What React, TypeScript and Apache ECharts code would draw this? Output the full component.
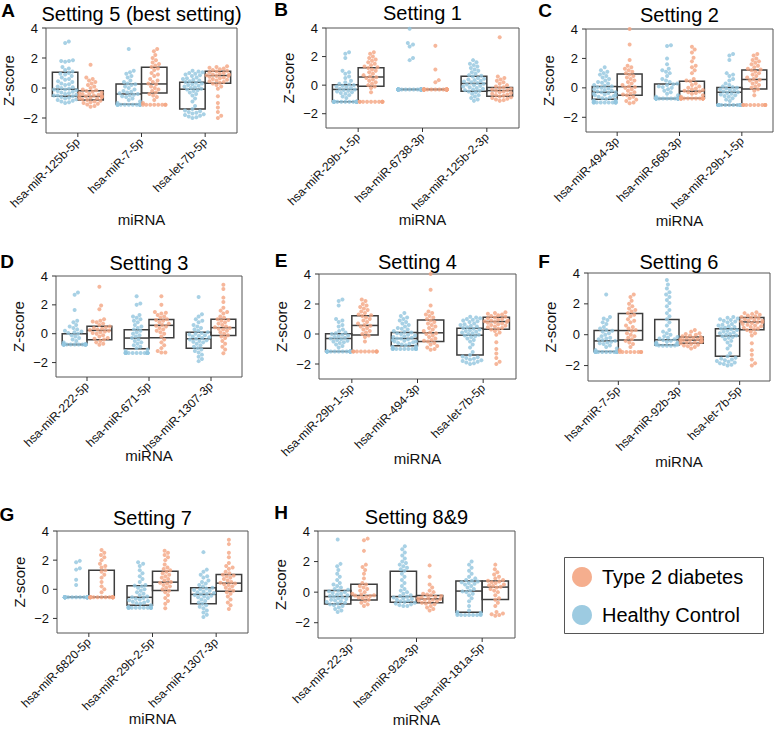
import React, { useEffect, useRef } from "react";
import * as echarts from "echarts";

// ---------------- Data (Z-scores) ----------------
// [Q1, median, Q3] for each box; points listed individually.
const hc_miR125b5p = [3.1, 3.0, 1.85, 1.8, 1.8, 1.75, 1.4, 1.3, 1.2, 1.1, 1.0, 0.95, 0.9, 0.8, 0.7, 0.6, 0.55, 0.45, 0.4, 0.3, 0.25, 0.2, 0.1, 0.05, 0.0, -0.05, -0.1, -0.1, -0.15, -0.2, -0.25, -0.3, -0.35, -0.4, -0.45, -0.5, -0.5, -0.55, -0.6, -0.65, -0.7, -0.75, -0.8, -0.85, -0.9, -0.95, -1.0];
const t2d_miR125b5p = [1.55, 0.7, 0.6, 0.5, 0.4, 0.3, 0.2, 0.1, 0.0, -0.1, -0.15, -0.2, -0.25, -0.3, -0.35, -0.4, -0.4, -0.45, -0.5, -0.5, -0.55, -0.55, -0.6, -0.6, -0.65, -0.7, -0.7, -0.75, -0.8, -0.85, -0.9, -0.95, -1.0, -1.05, -1.1, -1.2, -1.25];
const boxHc_miR125b5p = [-0.55, -0.08, 1.05];
const boxT2d_miR125b5p = [-0.8, -0.56, -0.18];

const hc_miR75p = [2.6, 1.15, 1.05, 0.95, 0.8, 0.7, 0.5, 0.4, 0.3, 0.25, 0.2, 0.1, 0.0, -0.1, -0.2, -0.25, -0.3, -0.35, -0.4, -0.45, -0.5, -0.55, -0.6, -0.7, -0.8, -0.9, -1.0, -1.12, -1.12, -1.12, -1.12, -1.12, -1.12, -1.12, -1.12, -1.12, -1.12, -1.12, -1.12];
const t2d_miR75p = [2.6, 2.45, 2.2, 2.0, 1.85, 1.7, 1.6, 1.5, 1.4, 1.3, 1.2, 1.0, 0.9, 0.8, 0.6, 0.5, 0.4, 0.3, 0.25, 0.1, 0.0, -0.1, -0.2, -0.3, -0.4, -0.5, -0.6, -0.8, -1.0, -1.12, -1.12, -1.12, -1.12, -1.12, -1.12, -1.12, -1.12];
const boxHc_miR75p = [-1.08, -0.4, 0.27];
const boxT2d_miR75p = [-0.34, 0.27, 1.38];

const hc_let7b5p = [1.15, 1.1, 1.05, 1.0, 0.95, 0.9, 0.85, 0.8, 0.7, 0.65, 0.6, 0.55, 0.5, 0.45, 0.4, 0.35, 0.3, 0.25, 0.2, 0.15, 0.1, 0.05, 0.0, -0.05, -0.1, -0.15, -0.2, -0.3, -0.4, -0.5, -0.7, -0.9, -1.2, -1.4, -1.5, -1.55, -1.6, -1.65, -1.7, -1.75, -1.8, -1.85, -1.9, -1.95, -2.0];
const t2d_let7b5p = [1.45, 1.4, 1.35, 1.3, 1.25, 1.2, 1.15, 1.1, 1.05, 1.0, 0.95, 0.9, 0.9, 0.85, 0.8, 0.8, 0.75, 0.7, 0.65, 0.6, 0.55, 0.5, 0.45, 0.4, 0.35, 0.3, 0.2, 0.1, -0.05, -0.55, -1.0, -1.3, -1.6, -1.85, -2.0];
const boxHc_let7b5p = [-1.4, -0.08, 0.38];
const boxT2d_let7b5p = [0.32, 0.83, 1.12];

const hc_miR29b15p = [2.3, 2.2, 1.9, 1.0, 0.9, 0.8, 0.6, 0.5, 0.3, 0.2, 0.1, 0.05, 0.0, -0.05, -0.1, -0.15, -0.2, -0.25, -0.3, -0.35, -0.4, -0.45, -0.5, -0.55, -0.6, -0.7, -0.8, -0.9, -1.17, -1.17, -1.17, -1.17, -1.17, -1.17, -1.17, -1.17, -1.17, -1.17, -1.17, -1.17, -1.17, -1.17, -1.17, -1.17, -1.17, -1.17];
const t2d_miR29b15p = [2.3, 2.2, 2.0, 1.9, 1.8, 1.7, 1.6, 1.5, 1.4, 1.3, 1.25, 1.2, 1.1, 1.0, 0.9, 0.8, 0.7, 0.6, 0.55, 0.5, 0.4, 0.3, 0.2, 0.1, 0.0, -0.1, -0.2, -0.5, -1.17, -1.17, -1.17, -1.17, -1.17, -1.17, -1.17, -1.17, -1.17, -1.17];
const boxHc_miR29b15p = [-1.17, -0.3, 0.02];
const boxT2d_miR29b15p = [-0.07, 0.57, 1.22];

const hc_miR67383p = [3.95, 2.95, 2.85, 2.7, 1.9, 1.75, -0.3, -0.3, -0.3, -0.3, -0.3, -0.3, -0.3, -0.3, -0.3, -0.3, -0.3, -0.3, -0.3, -0.3, -0.3, -0.3, -0.3, -0.3, -0.3, -0.3, -0.3, -0.3, -0.3, -0.3, -0.3, -0.3, -0.3, -0.3, -0.3, -0.3];
const t2d_miR67383p = [2.75, 1.1, 0.35, 0.2, -0.3, -0.3, -0.3, -0.3, -0.3, -0.3, -0.3, -0.3, -0.3, -0.3, -0.3, -0.3, -0.3, -0.3, -0.3, -0.3, -0.3, -0.3, -0.3, -0.3, -0.3, -0.3];
const boxHc_miR67383p = [-0.3, -0.3, -0.3];
const boxT2d_miR67383p = [-0.3, -0.3, -0.3];

const hc_miR125b23p = [1.75, 1.6, 1.5, 1.4, 1.3, 1.2, 1.1, 1.0, 0.9, 0.8, 0.7, 0.65, 0.6, 0.5, 0.45, 0.4, 0.35, 0.3, 0.25, 0.2, 0.15, 0.1, 0.05, 0.0, -0.05, -0.1, -0.15, -0.2, -0.25, -0.3, -0.35, -0.4, -0.45, -0.5, -0.6, -0.7, -0.8, -0.9, -1.0, -1.1];
const t2d_miR125b23p = [3.35, 0.6, 0.5, 0.4, 0.3, 0.2, 0.1, 0.0, -0.1, -0.15, -0.2, -0.25, -0.3, -0.35, -0.4, -0.45, -0.5, -0.55, -0.6, -0.65, -0.7, -0.75, -0.8, -0.85, -0.9, -0.95, -1.0, -1.05, -1.1];
const boxHc_miR125b23p = [-0.42, 0.12, 0.62];
const boxT2d_miR125b23p = [-0.78, -0.38, -0.17];

const hc_miR4943p = [1.4, 1.2, 1.1, 1.0, 0.9, 0.8, 0.7, 0.6, 0.5, 0.4, 0.35, 0.3, 0.2, 0.15, 0.1, 0.05, 0.0, -0.05, -0.1, -0.15, -0.2, -0.25, -0.3, -0.3, -0.35, -0.4, -0.45, -0.5, -0.5, -0.55, -0.6, -0.65, -0.7, -0.75, -0.8, -0.85, -0.9, -0.95, -1.0, -1.0, -1.0, -1.0, -1.0, -1.0, -1.0, -1.0, -1.0, -1.0];
const t2d_miR4943p = [4.0, 2.95, 1.9, 1.5, 1.4, 1.3, 1.2, 1.1, 1.0, 0.9, 0.8, 0.7, 0.6, 0.5, 0.4, 0.3, 0.2, 0.1, 0.05, 0.0, -0.1, -0.2, -0.3, -0.4, -0.45, -0.5, -0.6, -0.7, -0.8, -0.9, -1.0, -1.05];
const boxHc_miR4943p = [-0.78, -0.3, 0.1];
const boxT2d_miR4943p = [-0.5, 0.08, 0.94];

const hc_miR6683p = [2.9, 2.85, 2.0, 1.6, 1.3, 1.2, 1.1, 1.0, 0.8, 0.6, 0.5, 0.4, 0.3, 0.25, 0.2, 0.1, 0.05, 0.0, -0.1, -0.2, -0.3, -0.4, -0.5, -0.6, -0.73, -0.73, -0.73, -0.73, -0.73, -0.73, -0.73, -0.73, -0.73, -0.73, -0.73, -0.73, -0.73, -0.73, -0.73, -0.73, -0.73, -0.73, -0.73, -0.73];
const t2d_miR6683p = [2.8, 2.6, 2.4, 2.05, 1.8, 1.5, 1.4, 1.2, 1.0, 0.6, 0.5, 0.45, 0.3, 0.2, 0.1, 0.0, -0.05, -0.1, -0.15, -0.2, -0.25, -0.3, -0.35, -0.4, -0.5, -0.6, -0.73, -0.73, -0.73, -0.73, -0.73, -0.73, -0.73, -0.73, -0.73, -0.73, -0.73, -0.73, -0.73, -0.73];
const boxHc_miR6683p = [-0.73, -0.73, 0.27];
const boxT2d_miR6683p = [-0.7, -0.23, 0.45];

const hc_miR2225p = [2.85, 2.7, 1.65, 0.9, 0.8, 0.6, 0.5, 0.4, 0.3, 0.2, 0.15, 0.1, 0.05, 0.0, -0.1, -0.2, -0.3, -0.4, -0.5, -0.6, -0.75, -0.75, -0.75, -0.75, -0.75, -0.75, -0.75, -0.75, -0.75, -0.75, -0.75, -0.75, -0.75, -0.75, -0.75, -0.75];
const t2d_miR2225p = [3.25, 1.95, 1.7, 1.0, 0.9, 0.85, 0.8, 0.7, 0.6, 0.5, 0.45, 0.4, 0.35, 0.3, 0.25, 0.2, 0.15, 0.1, 0.05, 0.0, -0.1, -0.2, -0.3, -0.35, -0.4, -0.5, -0.6, -0.7, -0.77];
const boxHc_miR2225p = [-0.75, -0.75, 0.0];
const boxT2d_miR2225p = [-0.42, 0.23, 0.51];

const hc_miR6715p = [2.6, 2.1, 2.0, 1.3, 1.2, 1.1, 1.0, 0.9, 0.8, 0.6, 0.5, 0.4, 0.3, 0.2, 0.1, 0.0, -0.1, -0.2, -0.3, -0.4, -0.5, -0.6, -0.7, -0.8, -0.9, -1.0, -1.1, -1.2, -1.33, -1.33, -1.33, -1.33, -1.33, -1.33, -1.33, -1.33, -1.33, -1.33, -1.33, -1.33, -1.33, -1.33];
const t2d_miR6715p = [2.6, 2.0, 1.5, 1.45, 1.4, 1.3, 1.2, 1.1, 1.0, 0.95, 0.9, 0.8, 0.7, 0.6, 0.55, 0.5, 0.4, 0.3, 0.2, 0.1, 0.0, -0.2, -0.4, -0.6, -0.8, -1.0, -1.2, -1.3, -1.3];
const boxHc_miR6715p = [-1.05, -0.3, 0.28];
const boxT2d_miR6715p = [-0.28, 0.58, 0.98];

const hc_miR13073p = [2.55, 1.35, 1.2, 1.0, 0.9, 0.8, 0.6, 0.5, 0.4, 0.3, 0.2, 0.1, 0.05, 0.0, -0.05, -0.1, -0.15, -0.2, -0.25, -0.3, -0.35, -0.4, -0.45, -0.5, -0.55, -0.6, -0.7, -0.8, -0.9, -1.0, -1.1, -1.2, -1.3, -1.45, -1.6, -1.75, -1.9];
const t2d_miR13073p = [3.4, 3.1, 2.5, 2.2, 1.8, 1.6, 1.5, 1.4, 1.2, 1.1, 1.0, 0.95, 0.9, 0.8, 0.7, 0.6, 0.5, 0.45, 0.4, 0.35, 0.3, 0.2, 0.1, 0.0, -0.1, -0.2, -0.3, -0.5, -0.7, -0.9, -1.1, -1.35];
const boxHc_miR13073p = [-1.0, -0.35, 0.1];
const boxT2d_miR13073p = [-0.13, 0.42, 1.01];

const hc_miR92b3p = [3.55, 3.25, 3.0, 2.75, 2.6, 2.45, 2.25, 2.05, 1.85, 1.6, 1.4, 1.2, 1.0, 0.8, 0.6, 0.3, 0.2, 0.1, 0.0, -0.1, -0.15, -0.2, -0.25, -0.3, -0.35, -0.4, -0.45, -0.5, -0.5, -0.55, -0.55, -0.6, -0.6, -0.65, -0.65, -0.7, -0.7, -0.72, -0.72, -0.72];
const t2d_miR92b3p = [0.3, 0.2, 0.1, 0.05, 0.0, -0.05, -0.1, -0.15, -0.2, -0.2, -0.25, -0.3, -0.3, -0.35, -0.35, -0.4, -0.4, -0.45, -0.45, -0.5, -0.5, -0.55, -0.6, -0.65, -0.7, -0.75, -0.8, -0.9];
const boxHc_miR92b3p = [-0.66, -0.33, 0.99];
const boxT2d_miR92b3p = [-0.55, -0.35, -0.15];

const hc_miR68205p = [1.95, 1.85, 1.45, 1.35, 0.65, 0.3, -0.55, -0.55, -0.55, -0.55, -0.55, -0.55, -0.55, -0.55, -0.55, -0.55, -0.55, -0.55, -0.55, -0.55, -0.55, -0.55, -0.55, -0.55, -0.55, -0.55, -0.55, -0.55, -0.55, -0.55, -0.55, -0.55];
const t2d_miR68205p = [2.7, 2.5, 2.35, 2.2, 2.0, 1.75, 1.6, 1.5, 1.3, 1.2, 1.0, 0.8, 0.5, 0.2, 0.0, -0.2, -0.55, -0.55, -0.55, -0.55, -0.55, -0.55, -0.55, -0.55, -0.55, -0.55, -0.55, -0.55, -0.55, -0.55, -0.55, -0.55];
const boxHc_miR68205p = [-0.55, -0.55, -0.55];
const boxT2d_miR68205p = [-0.55, -0.55, 1.3];

const hc_miR29b25p = [1.85, 1.75, 1.6, 1.3, 1.1, 0.9, 0.7, 0.5, 0.3, 0.25, 0.2, 0.1, 0.0, -0.1, -0.2, -0.3, -0.4, -0.5, -0.55, -0.6, -0.65, -0.7, -0.75, -0.8, -0.85, -0.9, -0.95, -1.0, -1.1, -1.2, -1.27, -1.27, -1.27, -1.27, -1.27, -1.27, -1.27, -1.27, -1.27, -1.27, -1.27, -1.27];
const t2d_miR29b25p = [2.65, 2.5, 2.35, 2.2, 2.0, 1.7, 1.5, 1.4, 1.3, 1.2, 1.1, 1.0, 0.9, 0.8, 0.7, 0.6, 0.5, 0.45, 0.4, 0.3, 0.2, 0.1, 0.0, -0.1, -0.2, -0.4, -0.6, -0.8, -1.0, -1.3];
const boxHc_miR29b25p = [-1.09, -0.55, 0.25];
const boxT2d_miR29b25p = [-0.09, 0.49, 1.23];

const hc_miR223p = [3.45, 1.85, 1.7, 1.45, 1.2, 1.0, 0.8, 0.6, 0.5, 0.4, 0.3, 0.2, 0.15, 0.1, 0.05, 0.0, -0.05, -0.1, -0.15, -0.2, -0.25, -0.3, -0.35, -0.4, -0.45, -0.5, -0.55, -0.6, -0.65, -0.7, -0.75, -0.8, -0.85, -0.9, -1.0, -1.1, -1.2, -1.3];
const t2d_miR223p = [3.5, 3.4, 2.7, 1.8, 1.65, 1.45, 1.2, 0.9, 0.6, 0.5, 0.4, 0.3, 0.2, 0.1, 0.0, -0.1, -0.15, -0.2, -0.22, -0.25, -0.3, -0.35, -0.4, -0.5, -0.6, -0.7, -0.8, -0.9];
const boxHc_miR223p = [-0.77, -0.29, 0.11];
const boxT2d_miR223p = [-0.51, -0.22, 0.51];

const hc_miR92a3p = [3.0, 2.8, 2.6, 2.4, 2.2, 2.0, 1.9, 1.8, 1.7, 1.6, 1.5, 1.4, 1.2, 1.0, 0.8, 0.6, 0.4, 0.2, 0.1, 0.0, -0.1, -0.2, -0.25, -0.3, -0.35, -0.4, -0.45, -0.5, -0.55, -0.6, -0.65, -0.7, -0.75, -0.8, -0.85, -0.9, -0.9];
const t2d_miR92a3p = [1.75, 1.0, 0.5, 0.3, 0.1, 0.0, -0.1, -0.15, -0.2, -0.25, -0.3, -0.35, -0.4, -0.4, -0.45, -0.5, -0.5, -0.55, -0.6, -0.65, -0.7, -0.75, -0.8, -0.9, -1.0, -1.1, -1.2];
const boxHc_miR92a3p = [-0.66, -0.29, 1.36];
const boxT2d_miR92a3p = [-0.7, -0.44, -0.22];

const hc_miR181a5p = [2.0, 1.8, 1.6, 1.4, 1.2, 1.0, 0.9, 0.8, 0.75, 0.7, 0.65, 0.6, 0.55, 0.5, 0.4, 0.3, 0.2, 0.1, 0.05, 0.0, -0.1, -0.2, -0.4, -0.6, -0.9, -1.2, -1.3, -1.35, -1.4, -1.45, -1.5, -1.5, -1.5, -1.5, -1.5, -1.5, -1.5];
const t2d_miR181a5p = [1.8, 1.5, 1.3, 1.15, 1.0, 0.9, 0.8, 0.75, 0.7, 0.65, 0.6, 0.5, 0.45, 0.4, 0.35, 0.3, 0.2, 0.1, 0.0, -0.2, -0.4, -0.5, -0.7, -0.9, -1.3, -1.4, -1.45, -1.5, -1.55];
const boxHc_miR181a5p = [-1.32, 0.07, 0.73];
const boxT2d_miR181a5p = [-0.48, 0.33, 0.73];

const panelLetters = ["A", "B", "C", "D", "E", "F", "G", "H"];
const panelTitles = ["Setting 5 (best setting)", "Setting 1", "Setting 2", "Setting 3", "Setting 4", "Setting 6", "Setting 7", "Setting 8&9"];
const panelMirnas = [
  ["hsa-miR-125b-5p", "hsa-miR-7-5p", "hsa-let-7b-5p"],
  ["hsa-miR-29b-1-5p", "hsa-miR-6738-3p", "hsa-miR-125b-2-3p"],
  ["hsa-miR-494-3p", "hsa-miR-668-3p", "hsa-miR-29b-1-5p"],
  ["hsa-miR-222-5p", "hsa-miR-671-5p", "hsa-miR-1307-3p"],
  ["hsa-miR-29b-1-5p", "hsa-miR-494-3p", "hsa-let-7b-5p"],
  ["hsa-miR-7-5p", "hsa-miR-92b-3p", "hsa-let-7b-5p"],
  ["hsa-miR-6820-5p", "hsa-miR-29b-2-5p", "hsa-miR-1307-3p"],
  ["hsa-miR-22-3p", "hsa-miR-92a-3p", "hsa-miR-181a-5p"],
];
const yTicks = [-2, 0, 2, 4];
const legendLabels = ["Type 2 diabetes", "Healthy Control"];

const MIRNA: Record<string, { hc: number[]; t2d: number[]; hcBox: number[]; t2dBox: number[] }> = {
  "hsa-miR-125b-5p": { hc: hc_miR125b5p, t2d: t2d_miR125b5p, hcBox: boxHc_miR125b5p, t2dBox: boxT2d_miR125b5p },
  "hsa-miR-7-5p": { hc: hc_miR75p, t2d: t2d_miR75p, hcBox: boxHc_miR75p, t2dBox: boxT2d_miR75p },
  "hsa-let-7b-5p": { hc: hc_let7b5p, t2d: t2d_let7b5p, hcBox: boxHc_let7b5p, t2dBox: boxT2d_let7b5p },
  "hsa-miR-29b-1-5p": { hc: hc_miR29b15p, t2d: t2d_miR29b15p, hcBox: boxHc_miR29b15p, t2dBox: boxT2d_miR29b15p },
  "hsa-miR-6738-3p": { hc: hc_miR67383p, t2d: t2d_miR67383p, hcBox: boxHc_miR67383p, t2dBox: boxT2d_miR67383p },
  "hsa-miR-125b-2-3p": { hc: hc_miR125b23p, t2d: t2d_miR125b23p, hcBox: boxHc_miR125b23p, t2dBox: boxT2d_miR125b23p },
  "hsa-miR-494-3p": { hc: hc_miR4943p, t2d: t2d_miR4943p, hcBox: boxHc_miR4943p, t2dBox: boxT2d_miR4943p },
  "hsa-miR-668-3p": { hc: hc_miR6683p, t2d: t2d_miR6683p, hcBox: boxHc_miR6683p, t2dBox: boxT2d_miR6683p },
  "hsa-miR-222-5p": { hc: hc_miR2225p, t2d: t2d_miR2225p, hcBox: boxHc_miR2225p, t2dBox: boxT2d_miR2225p },
  "hsa-miR-671-5p": { hc: hc_miR6715p, t2d: t2d_miR6715p, hcBox: boxHc_miR6715p, t2dBox: boxT2d_miR6715p },
  "hsa-miR-1307-3p": { hc: hc_miR13073p, t2d: t2d_miR13073p, hcBox: boxHc_miR13073p, t2dBox: boxT2d_miR13073p },
  "hsa-miR-92b-3p": { hc: hc_miR92b3p, t2d: t2d_miR92b3p, hcBox: boxHc_miR92b3p, t2dBox: boxT2d_miR92b3p },
  "hsa-miR-6820-5p": { hc: hc_miR68205p, t2d: t2d_miR68205p, hcBox: boxHc_miR68205p, t2dBox: boxT2d_miR68205p },
  "hsa-miR-29b-2-5p": { hc: hc_miR29b25p, t2d: t2d_miR29b25p, hcBox: boxHc_miR29b25p, t2dBox: boxT2d_miR29b25p },
  "hsa-miR-22-3p": { hc: hc_miR223p, t2d: t2d_miR223p, hcBox: boxHc_miR223p, t2dBox: boxT2d_miR223p },
  "hsa-miR-92a-3p": { hc: hc_miR92a3p, t2d: t2d_miR92a3p, hcBox: boxHc_miR92a3p, t2dBox: boxT2d_miR92a3p },
  "hsa-miR-181a-5p": { hc: hc_miR181a5p, t2d: t2d_miR181a5p, hcBox: boxHc_miR181a5p, t2dBox: boxT2d_miR181a5p },
};

// ---------------- Layout & style ----------------
const FONT = "'Liberation Sans', Arial, Helvetica, sans-serif";
const HC_COLOR = "#92c5de";
const T2D_COLOR = "#f4a582";
const BOX_COLOR = "#3d3d3d";
const TEXT_COLOR = "#111";
const HALF = 0.2; // half box width in category units
const DOT = 4; // px
const TICK = 4; // px

// grid boxes in px: l, t, r, b ; title y ; letter x,y ; x-name gap
const LAYOUT = [
  { l: 46, t: 28, r: 237, b: 133, ty: 14, lx: 8, ly: 10, xg: 79 },
  { l: 326, t: 28, r: 519, b: 128, ty: 13, lx: 281, ly: 9, xg: 84 },
  { l: 586, t: 29, r: 773, b: 132, ty: 15, lx: 545, ly: 10, xg: 81 },
  { l: 56, t: 276, r: 242, b: 377, ty: 263, lx: 7, ly: 261, xg: 71 },
  { l: 319, t: 274, r: 516, b: 379, ty: 262, lx: 281, ly: 260, xg: 72 },
  { l: 588, t: 273, r: 770, b: 381, ty: 262, lx: 544, ly: 261, xg: 73 },
  { l: 57, t: 531, r: 248, b: 633, ty: 518, lx: 7, ly: 514, xg: 78 },
  { l: 318, t: 531, r: 515, b: 638, ty: 517, lx: 281, ly: 512, xg: 74 },
];

// deterministic beeswarm (px space), returns x offsets in px
function swarm(values: number[], pxPerY: number, d: number, maxHalf: number): number[] {
  const idx = values.map((_, i) => i).sort((a, b) => values[a] - values[b]);
  const placed: { x: number; y: number }[] = [];
  const out = new Array(values.length).fill(0);
  for (const i of idx) {
    const y = values[i] * pxPerY;
    const near = placed.filter((p) => Math.abs(p.y - y) < d);
    const cands = [0];
    for (const p of near) {
      const dx = Math.sqrt(Math.max(0, d * d - (p.y - y) * (p.y - y)));
      cands.push(p.x + dx, p.x - dx);
    }
    cands.sort((a, b) => Math.abs(a) - Math.abs(b));
    let x = 0;
    for (const c of cands) {
      if (near.every((p) => (p.x - c) * (p.x - c) + (p.y - y) * (p.y - y) >= d * d - 1e-6)) {
        x = c;
        break;
      }
    }
    placed.push({ x, y });
    out[i] = Math.max(-maxHalf, Math.min(maxHalf, x));
  }
  return out;
}

function fmtTick(v: number) {
  if (yTicks.indexOf(v) < 0) return "";
  return v < 0 ? "\u2212" + Math.abs(v) : String(v);
}

function buildOption() {
  const grid: any[] = [];
  const xAxis: any[] = [];
  const yAxis: any[] = [];
  const series: any[] = [];
  const graphic: any[] = [];

  panelMirnas.forEach((mirnas, i) => {
    const L = LAYOUT[i];
    const w = L.r - L.l;
    const h = L.b - L.t;
    const pxX = w / 3;
    const pxY = h / 7;
    grid.push({
      left: L.l, top: L.t, width: w, height: h, show: true,
      borderColor: "#555", borderWidth: 1, backgroundColor: "rgba(0,0,0,0)",
      containLabel: false, outerBoundsMode: "none",
    });
    xAxis.push({
      type: "category", gridIndex: i, data: mirnas, boundaryGap: true,
      axisLine: { show: false },
      axisTick: { show: false },
      axisLabel: { rotate: 45, interval: 0, fontSize: 12, color: TEXT_COLOR, margin: 7, fontFamily: FONT },
      splitLine: { show: false },
      name: "miRNA", nameLocation: "middle", nameGap: L.xg, nameMoveOverlap: false,
      nameTextStyle: { fontSize: 15, color: TEXT_COLOR, fontFamily: FONT },
    });
    xAxis.push({ type: "value", gridIndex: i, min: -0.5, max: 2.5, show: false });
    yAxis.push({
      type: "value", gridIndex: i, min: -3, max: 4, interval: 1,
      axisLine: { show: false },
      axisTick: { show: false },
      axisLabel: { formatter: fmtTick, fontSize: 13, color: TEXT_COLOR, margin: 8, fontFamily: FONT },
      splitLine: { show: false },
      name: "Z-score", nameLocation: "middle", nameGap: 30, nameRotate: 90, nameMoveOverlap: false,
      nameTextStyle: { fontSize: 15, color: TEXT_COLOR, fontFamily: FONT },
    });

    // tick marks (y ticks at values, x ticks at category centres), placed through the axes
    const tickData: number[][] = [];
    yTicks.forEach((v) => tickData.push([0, v]));
    mirnas.forEach((_, c) => tickData.push([1, c]));
    series.push({
      type: "custom", xAxisIndex: 2 * i + 1, yAxisIndex: i, z: 4, silent: true,
      data: tickData,
      renderItem: (_p: any, api: any) => {
        const kind = api.value(0), v = api.value(1);
        if (kind === 0) {
          const p = api.coord([-0.5, v]);
          return { type: "line", shape: { x1: p[0] - TICK, y1: p[1], x2: p[0], y2: p[1] }, style: { stroke: "#333", lineWidth: 1 } };
        }
        const p = api.coord([v, -3]);
        return { type: "line", shape: { x1: p[0], y1: p[1], x2: p[0], y2: p[1] + TICK }, style: { stroke: "#333", lineWidth: 1 } };
      },
    });

    const boxes: number[][] = [];
    const hcPts: number[][] = [];
    const t2dPts: number[][] = [];
    mirnas.forEach((m, c) => {
      const d = MIRNA[m];
      boxes.push([c - HALF, ...d.hcBox]);
      boxes.push([c + HALF, ...d.t2dBox]);
      const maxHalf = HALF * pxX - 1.5;
      const offH = swarm(d.hc, pxY, DOT, maxHalf);
      d.hc.forEach((v, k) => hcPts.push([c - HALF + offH[k] / pxX, v]));
      const offT = swarm(d.t2d, pxY, DOT, maxHalf);
      d.t2d.forEach((v, k) => t2dPts.push([c + HALF + offT[k] / pxX, v]));
    });

    series.push({
      type: "custom", xAxisIndex: 2 * i + 1, yAxisIndex: i, z: 2, silent: true,
      data: boxes, encode: { x: 0, y: [1, 2, 3] },
      renderItem: (_p: any, api: any) => {
        const cx = api.value(0), q1 = api.value(1), med = api.value(2), q3 = api.value(3);
        const tl = api.coord([cx - HALF, q3]);
        const br = api.coord([cx + HALF, q1]);
        const ml = api.coord([cx - HALF, med]);
        const mr = api.coord([cx + HALF, med]);
        return {
          type: "group",
          children: [
            { type: "rect", shape: { x: tl[0], y: tl[1], width: br[0] - tl[0], height: br[1] - tl[1] },
              style: { fill: "none", stroke: BOX_COLOR, lineWidth: 1.5 } },
            { type: "line", shape: { x1: ml[0], y1: ml[1], x2: mr[0], y2: mr[1] },
              style: { stroke: BOX_COLOR, lineWidth: 1.5 } },
          ],
        };
      },
    });
    series.push({
      type: "scatter", name: "Healthy Control", xAxisIndex: 2 * i + 1, yAxisIndex: i, z: 3,
      symbolSize: DOT, itemStyle: { color: HC_COLOR }, data: hcPts, silent: true,
    });
    series.push({
      type: "scatter", name: "Type 2 diabetes", xAxisIndex: 2 * i + 1, yAxisIndex: i, z: 3,
      symbolSize: DOT, itemStyle: { color: T2D_COLOR }, data: t2dPts, silent: true,
    });

    graphic.push({
      type: "text", x: (L.l + L.r) / 2, y: L.ty,
      style: { text: panelTitles[i], fontSize: 20, fontFamily: FONT, fill: "#000",
        align: "center", verticalAlign: "middle", textAlign: "center", textVerticalAlign: "middle" },
    });
    graphic.push({
      type: "text", x: L.lx, y: L.ly,
      style: { text: panelLetters[i], fontSize: 19, fontWeight: "bold", fontFamily: FONT, fill: "#000",
        align: "center", verticalAlign: "middle", textAlign: "center", textVerticalAlign: "middle" },
    });
  });

  // legend box
  graphic.push({ type: "rect", shape: { x: 564.5, y: 557.5, width: 199, height: 76 },
    style: { fill: "#fff", stroke: "#555", lineWidth: 1 } });
  const legendColors = [T2D_COLOR, HC_COLOR];
  legendLabels.forEach((lab, k) => {
    const cy = 577 + k * 38;
    graphic.push({ type: "circle", shape: { cx: 582, cy, r: 10 }, style: { fill: legendColors[k], opacity: 0.9 } });
    graphic.push({ type: "text", x: 602, y: cy,
      style: { text: lab, fontSize: 20, fontFamily: FONT, fill: "#000",
        align: "left", verticalAlign: "middle", textAlign: "left", textVerticalAlign: "middle" } });
  });

  return { animation: false, backgroundColor: "#fff", grid, xAxis, yAxis, series, graphic };
}

export default function App() {
  const ref = useRef<HTMLDivElement>(null);
  useEffect(() => {
    if (!ref.current) return;
    const chart = echarts.init(ref.current, undefined, { renderer: "svg" });
    chart.setOption(buildOption() as any);
    return () => chart.dispose();
  }, []);
  return <div ref={ref} style={{ position: "absolute", left: 0, top: 0, width: 778, height: 729 }} />;
}
